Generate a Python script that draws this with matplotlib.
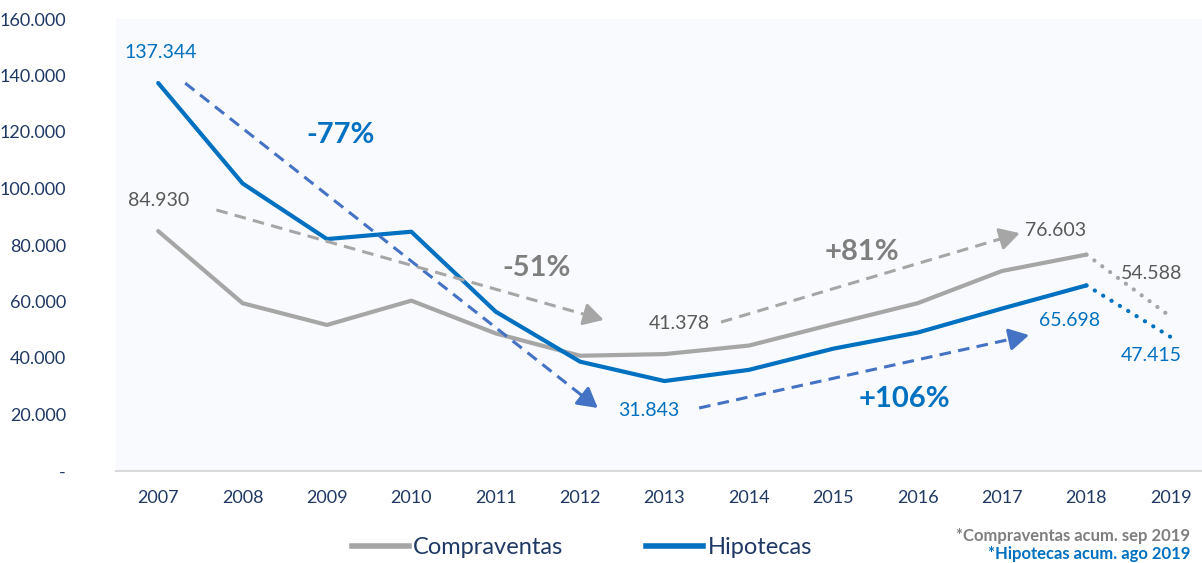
import matplotlib.pyplot as plt
from matplotlib.lines import Line2D

plt.rcParams['font.family'] = ['Lato', 'DejaVu Sans']

# data
years = ['2007', '2008', '2009', '2010', '2011', '2012', '2013',
         '2014', '2015', '2016', '2017', '2018', '2019']
compraventas = [84930, 59400, 51700, 60300, 48700, 40800, 41378,
                44400, 52000, 59400, 70800, 76603, 54588]
hipotecas = [137344, 101800, 82100, 84700, 56400, 38700, 31843,
             35800, 43300, 49000, 57500, 65698, 47415]
yticks = [0, 20000, 40000, 60000, 80000, 100000, 120000, 140000, 160000]

# labelled points: (index, offset px)
comp_labels = [(0, (0, 31)), (6, (15, 31)), (11, (-31, 24)), (12, (-19, 43))]
hip_labels = [(0, (2, 31)), (6, (-16, -29)), (11, (-17, -35)), (12, (-19, -18))]

# trend arrows: start, end, text, text position
trend_arrows = [
    ((0.32, 137300), (5.21, 22300), '-77%', (2.16, 119000), 'blue'),
    ((0.69, 92400), (5.28, 53500), '-51%', (4.48, 71900), 'gray'),
    ((6.67, 52700), (10.21, 84200), '+81%', (8.34, 77500), 'gray'),
    ((6.41, 22300), (10.32, 48100), '+106%', (8.84, 25500), 'blue'),
]

GRAY = '#A6A6A6'
BLUE = '#0070C0'
NAVY = '#1F3864'
arrow_col = {'blue': '#4472C4', 'gray': '#A6A6A6'}
pct_col = {'blue': '#0070C0', 'gray': '#7F7F7F'}

fig = plt.figure(figsize=(12.02, 5.63), dpi=100)
ax = fig.add_axes([116 / 1202, 92 / 563, 1 - 116 / 1202, (471 - 19) / 563])
ax.set_facecolor('#F9FAFD')

x = list(range(len(years)))

# solid part up to 2018, dotted 2018-2019
ax.plot(x[:-1], compraventas[:-1], color=GRAY, lw=3, solid_capstyle='round', zorder=3)
ax.plot(x[-2:], compraventas[-2:], color=GRAY, lw=3, linestyle=(0, (0.05, 2.3)),
        dash_capstyle='round', zorder=3)
ax.plot(x[:-1], hipotecas[:-1], color=BLUE, lw=3, solid_capstyle='round', zorder=3)
ax.plot(x[-2:], hipotecas[-2:], color=BLUE, lw=3, linestyle=(0, (0.05, 2.3)),
        dash_capstyle='round', zorder=3)

for i, off in comp_labels:
    ax.annotate(f'{compraventas[i]:,}'.replace(',', '.'), (x[i], compraventas[i]),
                xytext=off, textcoords='offset pixels', ha='center', va='center',
                fontsize=14, color='#595959')
for i, off in hip_labels:
    ax.annotate(f'{hipotecas[i]:,}'.replace(',', '.'), (x[i], hipotecas[i]),
                xytext=off, textcoords='offset pixels', ha='center', va='center',
                fontsize=14, color=BLUE)

for start, end, txt, tpos, c in trend_arrows:
    # dashed shaft, then a solid head at the end
    fx = start[0] + (end[0] - start[0]) * 0.96
    fy = start[1] + (end[1] - start[1]) * 0.96
    ax.plot([start[0], fx], [start[1], fy], color=arrow_col[c], lw=2.2,
            linestyle=(0, (3.8, 2.4)), zorder=4)
    ax.annotate('', xy=end, xytext=(fx, fy),
                arrowprops=dict(arrowstyle='-|>,head_length=0.8,head_width=0.45',
                                color=arrow_col[c], lw=2.2, shrinkA=0, shrinkB=0,
                                mutation_scale=15), zorder=4)
    ax.text(tpos[0], tpos[1], txt, ha='center', va='center', fontsize=21,
            fontweight='bold', color=pct_col[c], zorder=5)

ax.set_xlim(-0.5, 12.37)
ax.set_ylim(0, 160000)
ax.set_xticks(x)
ax.set_xticklabels(years, fontsize=13, color=NAVY)
ax.set_yticks(yticks)
ax.set_yticklabels(['-' if v == 0 else f'{v:,}'.replace(',', '.') for v in yticks],
                   fontsize=13, color=NAVY)
ax.tick_params(axis='x', length=0, pad=14)
ax.tick_params(axis='y', length=0, pad=36)
for s in ['top', 'right', 'left']:
    ax.spines[s].set_visible(False)
ax.spines['bottom'].set_color('#D9D9D9')
ax.spines['bottom'].set_linewidth(1.5)

handles = [Line2D([], [], color=GRAY, lw=4), Line2D([], [], color=BLUE, lw=4)]
fig.legend(handles, ['Compraventas', 'Hipotecas'], loc='center',
           bbox_to_anchor=(582 / 1202, 1 - 548 / 563), ncol=2, frameon=False,
           fontsize=17, labelcolor=NAVY, handlelength=2.4, handletextpad=0.2,
           columnspacing=3.5)

fig.text(1190 / 1202, 1 - 536 / 563, '*Compraventas acum. sep 2019', ha='right',
         va='center', fontsize=12, fontweight='bold', color='#7F7F7F')
fig.text(1190 / 1202, 1 - 554 / 563, '*Hipotecas acum. ago 2019', ha='right',
         va='center', fontsize=12, fontweight='bold', color=BLUE)

fig.savefig('out.png', dpi=100)
